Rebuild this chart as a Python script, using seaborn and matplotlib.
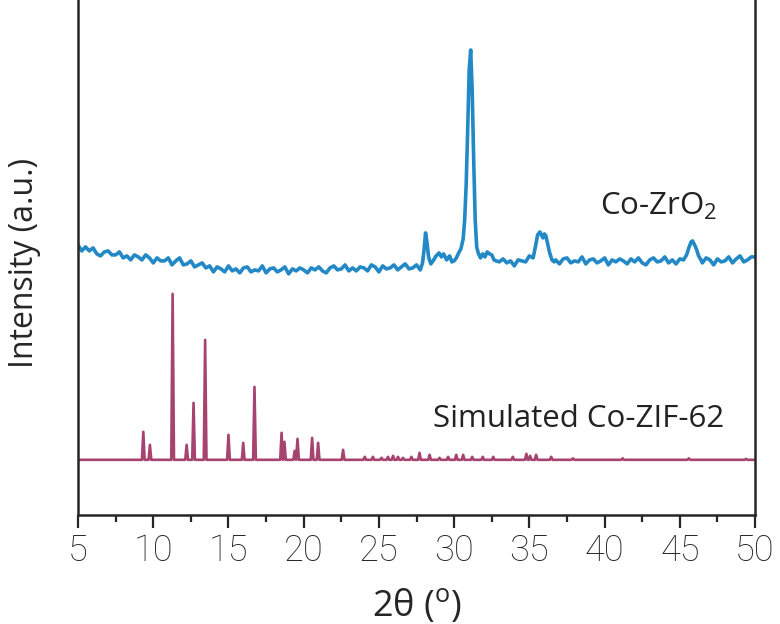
import numpy as np
import pandas as pd
import matplotlib
matplotlib.use("Agg")
import matplotlib.pyplot as plt
import seaborn as sns

zro2_x = [
    5.00, 5.25, 5.50, 5.75, 6.00, 6.25, 6.50, 6.75, 7.00, 7.25, 7.50, 7.75,
    8.00, 8.25, 8.50, 8.75, 9.00, 9.25, 9.50, 9.75, 10.00, 10.25, 10.50, 10.75,
    11.00, 11.25, 11.50, 11.75, 12.00, 12.25, 12.50, 12.75, 13.00, 13.25, 13.50, 13.75,
    14.00, 14.25, 14.50, 14.75, 15.00, 15.25, 15.50, 15.75, 16.00, 16.25, 16.50, 16.75,
    17.00, 17.25, 17.50, 17.75, 18.00, 18.25, 18.50, 18.75, 19.00, 19.25, 19.50, 19.75,
    20.00, 20.25, 20.50, 20.75, 21.00, 21.25, 21.50, 21.75, 22.00, 22.25, 22.50, 22.75,
    23.00, 23.25, 23.50, 23.75, 24.00, 24.25, 24.50, 24.75, 25.00, 25.25, 25.50, 25.75,
    26.00, 26.25, 26.50, 26.75, 27.00, 27.25, 27.50, 27.75,
    27.90, 28.00, 28.10, 28.20, 28.30, 28.45, 28.60, 28.80, 29.00, 29.15, 29.30, 29.50,
    29.70, 29.85, 30.00, 30.15, 30.30, 30.45, 30.60, 30.70, 30.80, 30.90, 31.00, 31.10,
    31.20, 31.30, 31.40, 31.50, 31.60, 31.75, 31.90, 32.05, 32.20, 32.35, 32.50, 32.65,
    32.80, 33.00, 33.25, 33.50, 33.75, 34.00, 34.25, 34.50, 34.75, 35.00, 35.25,
    35.40, 35.55, 35.70, 35.80, 35.90, 36.00, 36.10, 36.20, 36.35, 36.50, 36.65,
    36.75, 37.00, 37.25, 37.50, 37.75, 38.00, 38.25, 38.50, 38.75, 39.00, 39.25, 39.50,
    39.75, 40.00, 40.25, 40.50, 40.75, 41.00, 41.25, 41.50, 41.75, 42.00, 42.25, 42.50,
    42.75, 43.00, 43.25, 43.50, 43.75, 44.00, 44.25, 44.50, 44.75, 45.00, 45.25,
    45.45, 45.60, 45.75, 45.85, 45.95, 46.10, 46.25, 46.40,
    46.50, 46.75, 47.00, 47.25, 47.50, 47.75, 48.00, 48.25, 48.50, 48.75, 49.00, 49.25,
    49.50, 49.75, 50.00,
]
zro2_y = [
    270, 264, 268, 264, 267, 261, 259, 263, 264, 260, 260, 263,
    257, 259, 255, 260, 258, 255, 260, 257, 252, 257, 254, 254,
    257, 250, 254, 257, 250, 251, 254, 248, 250, 252, 247, 249,
    243, 248, 246, 243, 249, 244, 246, 242, 247, 248, 243, 245,
    244, 249, 242, 246, 247, 243, 245, 248, 241, 246, 244, 247,
    245, 242, 247, 245, 248, 244, 242, 247, 249, 245, 246, 250,
    244, 247, 244, 248, 247, 244, 250, 248, 243, 249, 246, 247,
    250, 245, 248, 251, 246, 247, 250, 245,
    252, 265, 282, 272, 258, 251, 254, 259, 262, 258, 261, 255,
    259, 253, 254, 257, 262, 266, 276, 295, 330, 385, 445, 465,
    425, 355, 295, 268, 262, 257, 261, 258, 263, 261, 260, 255,
    254, 253, 256, 252, 254, 249, 255, 254, 253, 259, 257,
    268, 280, 283, 280, 277, 281, 279, 272, 262, 255, 253,
    255, 251, 256, 257, 252, 254, 253, 258, 251, 255, 256, 252,
    254, 257, 250, 255, 253, 256, 254, 251, 256, 253, 257, 252,
    250, 255, 257, 253, 254, 258, 252, 255, 251, 256, 255,
    260, 267, 273, 274, 271, 266, 259, 255,
    252, 257, 255, 250, 256, 253, 254, 258, 252, 256, 259, 253,
    255, 258, 258,
]

# simulated Co-ZIF-62 pattern: peak positions and heights above its baseline
sim_base = 55
sim_pos = [
    9.34, 9.78, 11.29, 12.22, 12.68, 13.45, 15.00, 15.98, 16.73, 18.53, 18.72,
    19.40, 19.59, 20.56, 20.96, 22.62, 24.06, 24.60, 25.17, 25.60, 25.94, 26.27,
    26.60, 27.16, 27.70, 28.37, 29.03, 29.60, 30.14, 30.60, 31.20, 31.90, 32.60,
    33.90, 34.80, 35.05, 35.45, 36.45, 37.90, 41.20, 45.60, 49.40,
]
sim_height = [
    28, 15, 166, 15, 57, 120, 25, 17, 73, 27, 18,
    9, 21, 22, 17, 10, 3, 3, 2, 3, 4, 3,
    2, 3, 7, 5, 2, 3, 5, 5, 3, 3, 3,
    3, 6, 4, 5, 3, 1.5, 1.5, 1.5, 1,
]

zro2_label = "Co-ZrO$_\\mathregular{2}$"
sim_label = "Simulated Co-ZIF-62"

# stick pattern as a polyline: each peak rises from the baseline and drops back
sx = [5.0]
sy = [sim_base]
for p, h in zip(sim_pos, sim_height):
    sx += [p - 0.09, p, p + 0.09]
    sy += [sim_base, sim_base + h, sim_base]
sx.append(50.0)
sy.append(sim_base)

df_zro2 = pd.DataFrame({"two_theta": zro2_x, "intensity": zro2_y})
df_sim = pd.DataFrame({"two_theta": sx, "intensity": sy})

sns.set_style("ticks")
plt.rcParams["font.family"] = ["Open Sans", "DejaVu Sans"]
plt.rcParams["mathtext.fontset"] = "custom"
plt.rcParams["mathtext.rm"] = "Open Sans"

fig = plt.figure(figsize=(7.8, 6.24), dpi=100)
ax = fig.add_axes([0.1, 0.175, 0.868, 0.825])

sns.lineplot(data=df_zro2, x="two_theta", y="intensity", ax=ax,
             color="#2389c6", linewidth=2.6, sort=False, estimator=None)
sns.lineplot(data=df_sim, x="two_theta", y="intensity", ax=ax,
             color="#a6436f", linewidth=1.9, sort=False, estimator=None)

ax.text(39.7, 300, zro2_label, fontsize=22.5, color="#222222")
ax.text(28.6, 88, sim_label, fontsize=22.5, color="#222222")

ax.set_xlim(5, 50)
ax.set_ylim(0, 515)
ax.set_xticks(np.arange(5, 51, 5))
ax.set_xticks(np.arange(7.5, 50, 5), minor=True)
ax.set_yticks([])
ax.tick_params(axis="x", which="major", length=9, width=1.6, pad=4)
ax.tick_params(axis="x", which="minor", length=5, width=1.6)
for lab in ax.get_xticklabels():
    lab.set_family(["Roboto", "DejaVu Sans"])
    lab.set_fontweight("light")
    lab.set_fontsize(26)

ax.set_xlabel("2θ ($^\\mathregular{o}$)", fontsize=26)
ax.xaxis.set_label_coords(0.5, -0.14)
ax.set_ylabel("Intensity (a.u.)", fontsize=23)
ax.yaxis.set_label_coords(-0.055, 0.49)

for side in ["left", "right", "bottom"]:
    ax.spines[side].set_linewidth(1.8)
ax.spines["top"].set_visible(False)

fig.savefig("out.png", dpi=100)
